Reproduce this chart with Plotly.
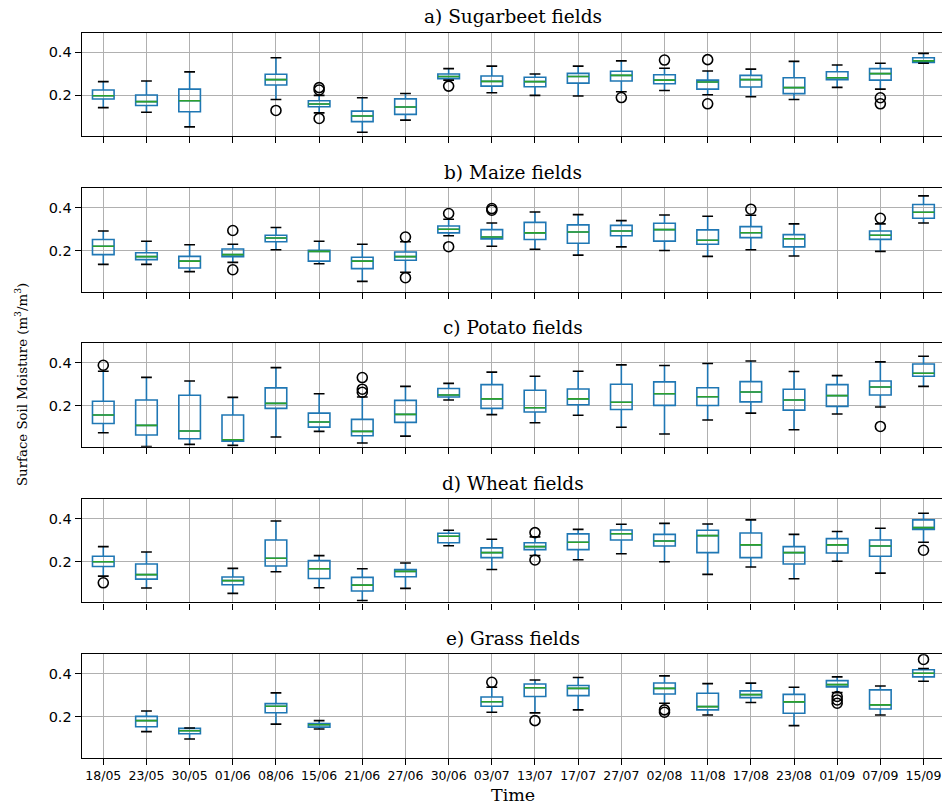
import plotly.graph_objects as go

# ---------------- data ----------------
dates = ["18/05", "23/05", "30/05", "01/06", "08/06", "15/06", "21/06", "27/06",
         "30/06", "03/07", "13/07", "17/07", "27/07", "02/08", "11/08", "17/08",
         "23/08", "01/09", "07/09", "15/09"]

titles = ["a) Sugarbeet fields", "b) Maize fields", "c) Potato fields",
          "d) Wheat fields", "e) Grass fields"]

# a) Sugarbeet : lower whisker, Q1, median, Q3, upper whisker (None = no data)
sb_low = [0.143, 0.122, 0.054, None, 0.181, 0.119, 0.029, 0.085, 0.271, 0.212,
          0.200, 0.197, 0.217, 0.223, 0.203, 0.194, 0.181, 0.237, 0.229, 0.349]
sb_q1 = [0.183, 0.153, 0.124, None, 0.248, 0.147, 0.078, 0.112, 0.278, 0.243,
         0.240, 0.257, 0.267, 0.254, 0.229, 0.239, 0.208, 0.273, 0.271, 0.353]
sb_med = [0.198, 0.171, 0.175, None, 0.273, 0.160, 0.104, 0.146, 0.288, 0.265,
          0.264, 0.288, 0.293, 0.271, 0.262, 0.273, 0.236, 0.282, 0.301, 0.360]
sb_q3 = [0.225, 0.202, 0.229, None, 0.298, 0.175, 0.127, 0.184, 0.299, 0.290,
         0.284, 0.302, 0.312, 0.296, 0.271, 0.293, 0.282, 0.310, 0.324, 0.375]
sb_high = [0.264, 0.267, 0.309, None, 0.375, 0.200, 0.189, 0.209, 0.324, 0.336,
           0.299, 0.336, 0.360, 0.326, 0.313, 0.322, 0.358, 0.341, 0.349, 0.395]
sb_out_dates = ["08/06", "15/06", "15/06", "15/06", "30/06", "27/07", "02/08",
                "11/08", "11/08", "07/09", "07/09"]
sb_out_vals = [0.130, 0.236, 0.225, 0.093, 0.243, 0.190, 0.364,
               0.366, 0.161, 0.189, 0.161]

# b) Maize
mz_low = [0.138, 0.138, 0.104, 0.147, 0.206, 0.141, 0.059, 0.101, 0.271, 0.222,
          0.208, 0.181, 0.219, 0.202, 0.175, 0.206, 0.177, None, 0.198, 0.330]
mz_q1 = [0.183, 0.160, 0.121, 0.174, 0.243, 0.153, 0.118, 0.157, 0.284, 0.256,
         0.253, 0.236, 0.271, 0.246, 0.231, 0.262, 0.219, None, 0.254, 0.352]
mz_med = [0.222, 0.174, 0.153, 0.183, 0.260, 0.198, 0.153, 0.174, 0.301, 0.265,
          0.284, 0.288, 0.293, 0.299, 0.250, 0.285, 0.257, None, 0.273, 0.380]
mz_q3 = [0.253, 0.192, 0.175, 0.209, 0.273, 0.203, 0.171, 0.195, 0.316, 0.299,
         0.333, 0.321, 0.319, 0.329, 0.298, 0.313, 0.276, None, 0.293, 0.416]
mz_high = [0.293, 0.245, 0.229, 0.231, 0.309, 0.245, 0.231, 0.243, 0.347, 0.330,
           0.381, 0.369, 0.341, 0.367, 0.361, 0.366, 0.326, None, 0.326, 0.456]
mz_out_dates = ["01/06", "01/06", "27/06", "27/06", "30/06", "30/06", "03/07",
                "03/07", "17/08", "07/09"]
mz_out_vals = [0.295, 0.113, 0.265, 0.076, 0.374, 0.220, 0.397, 0.389, 0.394, 0.352]

# c) Potato
pt_low = [0.076, 0.012, 0.022, 0.017, 0.056, 0.082, 0.028, 0.060, 0.228, 0.160,
          0.122, 0.157, 0.101, 0.070, 0.135, 0.167, 0.090, 0.163, 0.195, 0.291]
pt_q1 = [0.119, 0.065, 0.048, 0.037, 0.189, 0.102, 0.062, 0.124, 0.242, 0.189,
         0.172, 0.206, 0.184, 0.203, 0.202, 0.219, 0.181, 0.198, 0.251, 0.338]
pt_med = [0.158, 0.110, 0.084, 0.043, 0.212, 0.126, 0.082, 0.161, 0.251, 0.233,
          0.192, 0.233, 0.217, 0.257, 0.243, 0.265, 0.228, 0.248, 0.288, 0.352]
pt_q3 = [0.222, 0.228, 0.250, 0.158, 0.284, 0.167, 0.138, 0.226, 0.281, 0.299,
         0.273, 0.279, 0.301, 0.312, 0.285, 0.313, 0.278, 0.299, 0.316, 0.395]
pt_high = [0.361, 0.333, 0.316, 0.240, 0.378, 0.257, 0.242, 0.291, 0.305, 0.357,
           0.338, 0.361, 0.391, 0.388, 0.397, 0.409, 0.360, 0.341, 0.405, 0.431]
pt_out_dates = ["18/05", "21/06", "21/06", "21/06", "07/09"]
pt_out_vals = [0.389, 0.332, 0.278, 0.264, 0.105]

# d) Wheat
wh_low = [0.133, 0.078, None, 0.053, 0.153, 0.079, 0.020, 0.076, 0.274, 0.164,
          0.229, 0.209, 0.237, 0.200, 0.141, 0.175, 0.121, 0.202, 0.147, 0.290]
wh_q1 = [0.178, 0.119, None, 0.093, 0.180, 0.122, 0.064, 0.130, 0.288, 0.219,
         0.256, 0.256, 0.301, 0.273, 0.242, 0.219, 0.189, 0.240, 0.225, 0.350]
wh_med = [0.200, 0.140, None, 0.112, 0.216, 0.167, 0.091, 0.155, 0.318, 0.242,
          0.270, 0.290, 0.330, 0.296, 0.321, 0.278, 0.242, 0.278, 0.273, 0.358]
wh_q3 = [0.225, 0.189, None, 0.129, 0.301, 0.205, 0.127, 0.164, 0.332, 0.264,
         0.288, 0.329, 0.347, 0.327, 0.346, 0.333, 0.270, 0.307, 0.301, 0.394]
wh_high = [0.270, 0.245, None, 0.169, 0.389, 0.228, 0.167, 0.194, 0.346, 0.304,
           0.315, 0.350, 0.374, 0.378, 0.375, 0.394, 0.327, 0.340, 0.355, 0.425]
wh_out_dates = ["18/05", "13/07", "13/07", "15/09"]
wh_out_vals = [0.102, 0.335, 0.208, 0.253]

# e) Grass
gr_low = [None, 0.132, 0.098, None, 0.167, 0.144, None, None, None, 0.222,
          0.219, 0.233, None, 0.264, 0.209, 0.267, 0.160, 0.313, 0.209, 0.366]
gr_q1 = [None, 0.155, 0.122, None, 0.220, 0.153, None, None, None, 0.250,
         0.295, 0.299, None, 0.307, 0.233, 0.290, 0.217, 0.340, 0.237, 0.386]
gr_med = [None, 0.183, 0.136, None, 0.250, 0.164, None, None, None, 0.271,
          0.336, 0.333, None, 0.333, 0.248, 0.304, 0.270, 0.350, 0.256, 0.403]
gr_q3 = [None, 0.203, 0.147, None, 0.262, 0.169, None, None, None, 0.293,
         0.353, 0.346, None, 0.358, 0.310, 0.321, 0.305, 0.369, 0.326, 0.419]
gr_high = [None, 0.228, 0.149, None, 0.312, 0.183, None, None, None, 0.338,
           0.372, 0.383, None, 0.391, 0.355, 0.357, 0.338, 0.386, 0.344, 0.425]
gr_out_dates = ["03/07", "13/07", "02/08", "02/08", "01/09", "01/09", "01/09", "15/09"]
gr_out_vals = [0.361, 0.183, 0.233, 0.222, 0.295, 0.279, 0.264, 0.467]

y_ticks = [0.2, 0.4]
y_tick_labels = ["0.2", "0.4"]

panels = [
    (sb_low, sb_q1, sb_med, sb_q3, sb_high, sb_out_dates, sb_out_vals),
    (mz_low, mz_q1, mz_med, mz_q3, mz_high, mz_out_dates, mz_out_vals),
    (pt_low, pt_q1, pt_med, pt_q3, pt_high, pt_out_dates, pt_out_vals),
    (wh_low, wh_q1, wh_med, wh_q3, wh_high, wh_out_dates, wh_out_vals),
    (gr_low, gr_q1, gr_med, gr_q3, gr_high, gr_out_dates, gr_out_vals),
]

# ---------------- layout geometry ----------------
W, H = 942, 804
left_px = 81.7
unit_px = 43.17
panel_tops = [32.7, 188.3, 343.3, 499.0, 654.3]
panel_h = 103.4
x_range = [-0.5, -0.5 + (W - left_px) / unit_px]
y_range = [0.011, 0.491]

BOX_W = 0.5
CAP_W = 0.25
BLUE = "#1f77b4"
GREEN = "#2ca02c"
GRID = "#b0b0b0"

fig = go.Figure()
layout = dict(
    width=W, height=H, margin=dict(l=0, r=0, t=0, b=0),
    paper_bgcolor="white", plot_bgcolor="white", showlegend=False,
    font=dict(family="DejaVu Sans", color="black"),
)

annotations = []
x_center = (left_px + (left_px + 20 * unit_px)) / 2 / W

for i, (lo, q1, med, q3, hi, od, ov) in enumerate(panels):
    n = i + 1
    xa = "x" if n == 1 else f"x{n}"
    ya = "y" if n == 1 else f"y{n}"
    idx = [k for k in range(len(dates)) if med[k] is not None]

    fig.add_trace(go.Box(
        x=idx,
        q1=[q1[k] for k in idx], median=[med[k] for k in idx],
        q3=[q3[k] for k in idx],
        lowerfence=[lo[k] for k in idx], upperfence=[hi[k] for k in idx],
        width=BOX_W, whiskerwidth=0, boxpoints=False,
        line=dict(color=BLUE, width=1.6), fillcolor="rgba(0,0,0,0)",
        xaxis=xa, yaxis=ya, hoverinfo="skip",
    ))

    # medians
    mx, my = [], []
    for k in idx:
        mx += [k - BOX_W / 2, k + BOX_W / 2, None]
        my += [med[k], med[k], None]
    fig.add_trace(go.Scatter(x=mx, y=my, mode="lines",
                             line=dict(color=GREEN, width=1.6),
                             xaxis=xa, yaxis=ya, hoverinfo="skip"))
    # caps
    cx, cy = [], []
    for k in idx:
        for v in (lo[k], hi[k]):
            cx += [k - CAP_W / 2, k + CAP_W / 2, None]
            cy += [v, v, None]
    fig.add_trace(go.Scatter(x=cx, y=cy, mode="lines",
                             line=dict(color="black", width=1.6),
                             xaxis=xa, yaxis=ya, hoverinfo="skip"))
    # fliers
    fig.add_trace(go.Scatter(
        x=[dates.index(d) for d in od], y=ov, mode="markers",
        marker=dict(symbol="circle-open", size=10, color="black",
                    line=dict(width=1.6, color="black")),
        xaxis=xa, yaxis=ya, hoverinfo="skip"))

    top = panel_tops[i]
    dom = [1 - (top + panel_h) / H, 1 - top / H]
    layout["xaxis" if n == 1 else f"xaxis{n}"] = dict(
        domain=[left_px / W, 1], anchor=ya, range=x_range,
        tickmode="array", tickvals=list(range(len(dates))), ticktext=dates,
        showticklabels=(n == 5), tickfont=dict(size=12.5, family="DejaVu Sans"),
        ticks="outside", ticklen=6, tickwidth=1, tickcolor="black",
        showgrid=True, gridcolor=GRID, gridwidth=1,
        showline=True, linecolor="black", linewidth=1.2, mirror=True,
        zeroline=False, fixedrange=True,
    )
    layout["yaxis" if n == 1 else f"yaxis{n}"] = dict(
        domain=dom, anchor=xa, range=y_range,
        tickmode="array", tickvals=y_ticks, ticktext=y_tick_labels,
        tickfont=dict(size=14.5, family="DejaVu Sans"),
        ticks="outside", ticklen=6, tickwidth=1, tickcolor="black",
        showgrid=True, gridcolor=GRID, gridwidth=1,
        showline=True, linecolor="black", linewidth=1.2, mirror=False,
        zeroline=False, fixedrange=True,
    )
    annotations.append(dict(
        text=titles[i], xref="paper", yref="paper",
        x=x_center, y=1 - (top - 16) / H, xanchor="center", yanchor="middle",
        showarrow=False, font=dict(family="DejaVu Serif", size=18.5, color="black"),
    ))

annotations.append(dict(
    text="Surface Soil Moisture (m<sup>3</sup>/m<sup>3</sup>)",
    xref="paper", yref="paper", x=21 / W, y=1 - 385 / H,
    xanchor="center", yanchor="middle", textangle=-90, showarrow=False,
    font=dict(family="DejaVu Serif", size=13.3, color="black"),
))
annotations.append(dict(
    text="Time", xref="paper", yref="paper", x=x_center, y=1 - 795 / H,
    xanchor="center", yanchor="middle", showarrow=False,
    font=dict(family="DejaVu Serif", size=17.5, color="black"),
))
layout["annotations"] = annotations
fig.update_layout(**layout)

fig.write_html(
    "out.html",
    config={"displayModeBar": False},
    post_script="document.body.style.margin='0';document.body.style.overflow='hidden';",
)
